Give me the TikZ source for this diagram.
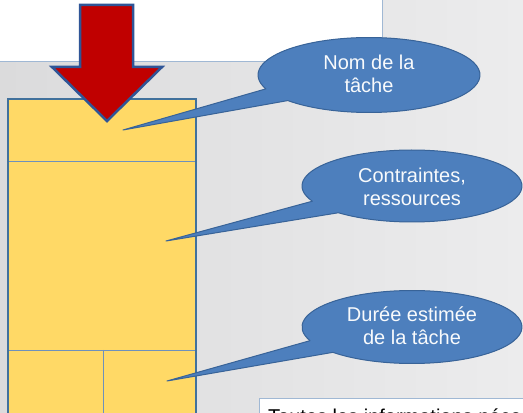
\documentclass[tikz,border=0pt]{standalone}
\usepackage{fontspec}
\newfontfamily\labelfont{Liberation Sans}
\definecolor{bgleft}{RGB}{219,219,220}
\definecolor{bgright}{RGB}{236,236,237}
\definecolor{cardfill}{RGB}{255,217,102}
\definecolor{cardedge}{RGB}{65,113,156}
\definecolor{cardline}{RGB}{110,145,188}
\definecolor{arrowred}{RGB}{192,0,0}
\definecolor{arrowedge}{RGB}{47,85,151}
\definecolor{bubblefill}{RGB}{77,127,189}
\definecolor{bubbleedge}{RGB}{56,99,152}
\definecolor{paneledge}{RGB}{160,184,212}
\tikzset{
  bubble/.style={fill=bubblefill, draw=bubbleedge, line width=1pt, line join=round},
  bubbletext/.style={text=white!96!bubblefill, align=center, font=\labelfont\fontsize{20}{23}\selectfont, inner sep=0pt},
  cardrule/.style={draw=cardline, line width=0.9pt},
}
\begin{document}
\begin{tikzpicture}[x=1pt,y=1pt]
\useasboundingbox (0,0) rectangle (523,413);
\clip (0,0) rectangle (523,413);
% backdrop
\shade[left color=bgleft, right color=bgright] (0,0) rectangle (523,413);
% white panel at the top
\draw[fill=white, draw=paneledge, line width=1pt] (-5,351) rectangle (382,420);
% task card
\fill[cardfill] (8,-10) rectangle (196,314);
\draw[cardrule] (8,252) -- (196,252);
\draw[cardrule] (8,63) -- (196,63);
\draw[cardrule] (103,63) -- (103,-10);
\draw[draw=cardedge, line width=2pt] (8,-10) rectangle (196,314);
% red arrow pointing onto the card
\draw[fill=arrowred, draw=arrowedge, line width=2.5pt, line join=miter]
  (80,408) -- (133,408) -- (133,346) -- (162,346) -- (107,292)
  -- (52,346) -- (80,346) -- cycle;
% callout 1
\coordinate (c1) at (369,338);
\coordinate (t1) at (123,283);
\draw[bubble] (c1) ++(223:111 and 37.5)
  arc[start angle=223, end angle=561.7, x radius=111, y radius=37.5] -- (t1) -- cycle;
\node[bubbletext] (n1) at (369,339) {Nom de la\\tâche};
% callout 2
\coordinate (c2) at (412,227);
\coordinate (t2) at (166,172);
\draw[bubble] (c2) ++(228:110 and 36)
  arc[start angle=228, end angle=565, x radius=110, y radius=36] -- (t2) -- cycle;
\node[bubbletext] (n2) at (412,226) {Contraintes,\\ressources};
% callout 3
\coordinate (c3) at (412,86);
\coordinate (t3) at (167,32);
\draw[bubble] (c3) ++(224:110 and 36.5)
  arc[start angle=224, end angle=562, x radius=110, y radius=36.5] -- (t3) -- cycle;
\node[bubbletext] (n3) at (412,87) {Durée estimée\\de la tâche};
% note panel at the bottom
\draw[fill=white, draw=paneledge, line width=1pt] (259,-30) rectangle (540,14);
\node[anchor=base west, inner sep=0pt, font=\labelfont\fontsize{20}{23}\selectfont]
  (note) at (268,-10) {Toutes les informations nécessaires};
\end{tikzpicture}
\end{document}
